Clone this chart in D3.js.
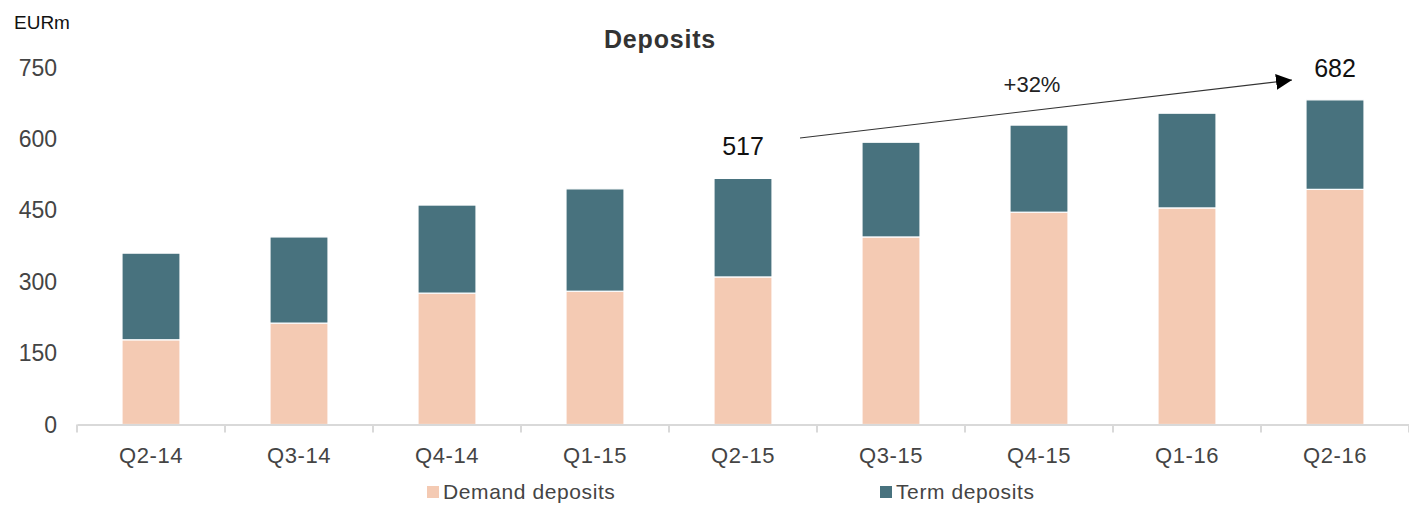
<!DOCTYPE html>
<html>
<head>
<meta charset="utf-8">
<title>Deposits</title>
<script src="https://cdn.jsdelivr.net/npm/d3@7"></script>
<style>
  html, body { margin: 0; background: #fff; overflow: hidden; }
  svg { display: block; font-family: "Liberation Sans", Arial, sans-serif; }
</style>
</head>
<body>
<svg id="chart" width="1409" height="505"></svg>
<script>
// data
const quarters = ["Q2-14", "Q3-14", "Q4-14", "Q1-15", "Q2-15", "Q3-15", "Q4-15", "Q1-16", "Q2-16"];
const demand = [178, 213, 276, 280, 310, 394, 446, 455, 494];
const term   = [182, 181, 185, 215, 207, 199, 183, 199, 188];
const yTicks = [0, 150, 300, 450, 600, 750];
const seriesNames = ["Demand deposits", "Term deposits"];
const colors = ["#f4cab3", "#48727e"];

const svg = d3.select("#chart");

const x = d3.scaleBand().domain(quarters).range([77, 1409]).paddingInner(0.608).paddingOuter(0.304);
const y = d3.scaleLinear().domain([0, 750]).range([424.5, 67.5]);

// title and unit
svg.append("text").attr("x", 660).attr("y", 48).attr("text-anchor", "middle")
  .attr("font-size", 25).attr("font-weight", "bold").attr("letter-spacing", 0.8)
  .attr("fill", "#333").text("Deposits");
svg.append("text").attr("x", 14).attr("y", 29)
  .attr("font-size", 19).attr("fill", "#111").text("EURm");

// y tick labels
svg.append("g").selectAll("text").data(yTicks).join("text")
  .attr("x", 57).attr("y", d => y(d)).attr("dy", "0.35em")
  .attr("text-anchor", "end").attr("font-size", 23).attr("fill", "#444")
  .text(d => d);

// stacked bars
const rows = quarters.map((q, i) => ({ q, demand: demand[i], term: term[i] }));
const stack = d3.stack().keys(["demand", "term"])(rows);

svg.append("g").selectAll("g").data(stack).join("g")
  .attr("fill", (d, i) => colors[i])
  .selectAll("rect").data(d => d).join("rect")
    .attr("x", d => x(d.data.q))
    .attr("width", x.bandwidth())
    .attr("y", d => y(d[1]))
    .attr("height", d => y(d[0]) - y(d[1]))
    .attr("stroke", "#fff").attr("stroke-width", 1.2);

// x axis
const axis = svg.append("g").attr("transform", "translate(0,424.5)")
  .call(d3.axisBottom(x).tickSize(0).tickPadding(23));
axis.select(".domain").attr("stroke", "#d9d9d9").attr("stroke-width", 2);
axis.selectAll("text").attr("font-size", 22).attr("fill", "#444").attr("letter-spacing", 0.6)
  .attr("font-family", "Liberation Sans, Arial, sans-serif");
const step = x.step();
axis.append("g").selectAll("line").data(d3.range(quarters.length + 1)).join("line")
  .attr("x1", i => 77 + i * step).attr("x2", i => 77 + i * step)
  .attr("y1", 0).attr("y2", 8).attr("stroke", "#d9d9d9").attr("stroke-width", 2);

// legend
const legend = svg.append("g");
const legendX = [427, 880];
seriesNames.forEach((name, i) => {
  legend.append("rect").attr("x", legendX[i]).attr("y", 486).attr("width", 12).attr("height", 12)
    .attr("fill", colors[i]);
  legend.append("text").attr("x", legendX[i] + 16).attr("y", 499)
    .attr("font-size", 21).attr("letter-spacing", 0.6).attr("fill", "#444").text(name);
});

// growth annotation
const first = 4, last = 8;
const totFirst = demand[first] + term[first];
const totLast = demand[last] + term[last];
svg.append("defs").append("marker")
  .attr("id", "arrow").attr("viewBox", "0 0 10 10").attr("refX", 10).attr("refY", 5)
  .attr("markerWidth", 16).attr("markerHeight", 16).attr("markerUnits", "userSpaceOnUse")
  .attr("orient", "auto")
  .append("path").attr("d", "M0,0L10,5L0,10Z").attr("fill", "#000");

svg.append("text").attr("x", x(quarters[first]) + x.bandwidth() / 2).attr("y", y(totFirst) - 23)
  .attr("text-anchor", "middle").attr("font-size", 25).attr("fill", "#111").text(totFirst);
svg.append("text").attr("x", x(quarters[last]) + x.bandwidth() / 2).attr("y", y(totLast) - 23)
  .attr("text-anchor", "middle").attr("font-size", 25).attr("fill", "#111").text(totLast);
svg.append("line").attr("x1", 800).attr("y1", 138).attr("x2", 1292).attr("y2", 80)
  .attr("stroke", "#333").attr("stroke-width", 1.1).attr("marker-end", "url(#arrow)");
svg.append("text").attr("x", 1032).attr("y", 92).attr("text-anchor", "middle")
  .attr("font-size", 22).attr("fill", "#222").text("+" + Math.round((totLast / totFirst - 1) * 100) + "%");
</script>
</body>
</html>
